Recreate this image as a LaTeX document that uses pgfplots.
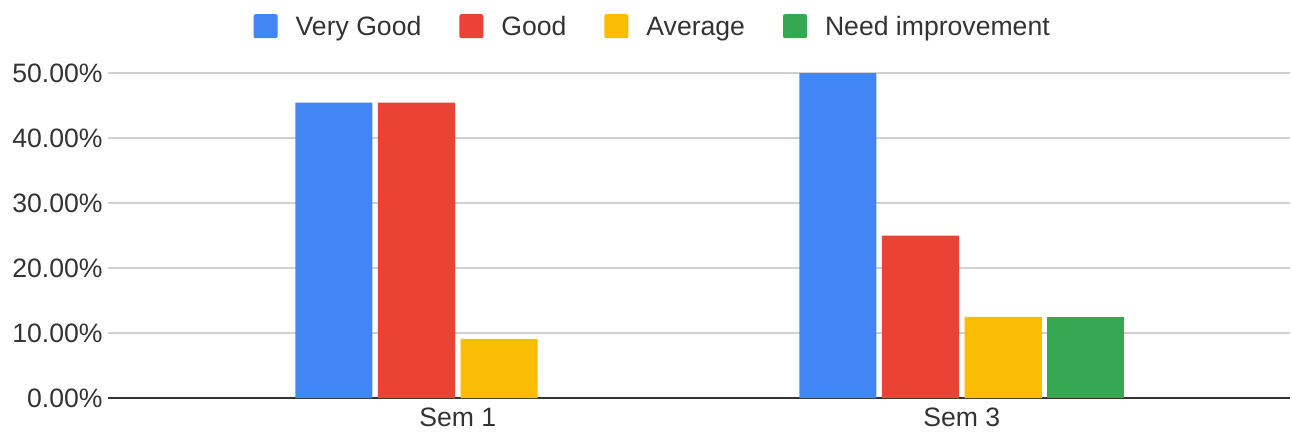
\documentclass[border=0pt]{standalone}
\usepackage{fontspec}
\setmainfont{Liberation Sans}
\usepackage{pgfplots}
\pgfplotsset{compat=1.18}
\definecolor{cblue}{HTML}{4285F4}
\definecolor{cred}{HTML}{EA4335}
\definecolor{cyellow}{HTML}{FBBC04}
\definecolor{cgreen}{HTML}{34A853}
\begin{document}
\fontsize{13.3}{16}\selectfont
\begin{tikzpicture}
\useasboundingbox (-54pt,-18.5pt) rectangle (592pt,199pt);
\begin{axis}[
  at={(0,0)}, anchor=south west,
  scale only axis, width=591pt, height=162.5pt,
  xmin=-0.694, xmax=1.651, ymin=0, ymax=50,
  ybar, bar width=0.153,
  axis line style={draw=none},
  major tick length=0,
  ytick={0,10,20,30,40,50},
  yticklabels={0.00\%,10.00\%,20.00\%,30.00\%,40.00\%,50.00\%},
  xtick={0,1}, xticklabels={Sem 1,Sem 3},
  ymajorgrids,
  grid style={color=black!18, line width=0.75pt},
  extra y ticks={0}, extra y tick labels={},
  extra y tick style={grid style={color=black!80, line width=1pt}},
  tick label style={font=\fontsize{13.3}{16}\selectfont, text=black!80},
  yticklabel style={anchor=east, inner sep=0pt, xshift=-2.5pt},
  xticklabel style={anchor=north, inner sep=0pt, yshift=-5pt},
  legend image code/.code={\fill[#1, rounded corners=1pt] (0pt,-5pt) rectangle (12pt,7pt);},
  legend style={at={(axis description cs:0.46,1)}, anchor=center, yshift=23pt,
    draw=none, font=\fontsize{13.3}{16}\selectfont, text=black!80,
    nodes={inner sep=0pt},
    /tikz/every even column/.append style={column sep=19pt},
    /tikz/every odd column/.append style={column sep=9pt}},
  legend columns=-1,
]
\addplot[fill=cblue, draw=none, bar shift=-0.246] coordinates {(0,45.45) (1,50)};
\addplot[fill=cred, draw=none, bar shift=-0.082] coordinates {(0,45.45) (1,25)};
\addplot[fill=cyellow, draw=none, bar shift=0.082] coordinates {(0,9.09) (1,12.5)};
\addplot[fill=cgreen, draw=none, bar shift=0.246] coordinates {(1,12.5)};
\legend{Very Good,Good,Average,Need improvement}
\end{axis}
\end{tikzpicture}
\end{document}
